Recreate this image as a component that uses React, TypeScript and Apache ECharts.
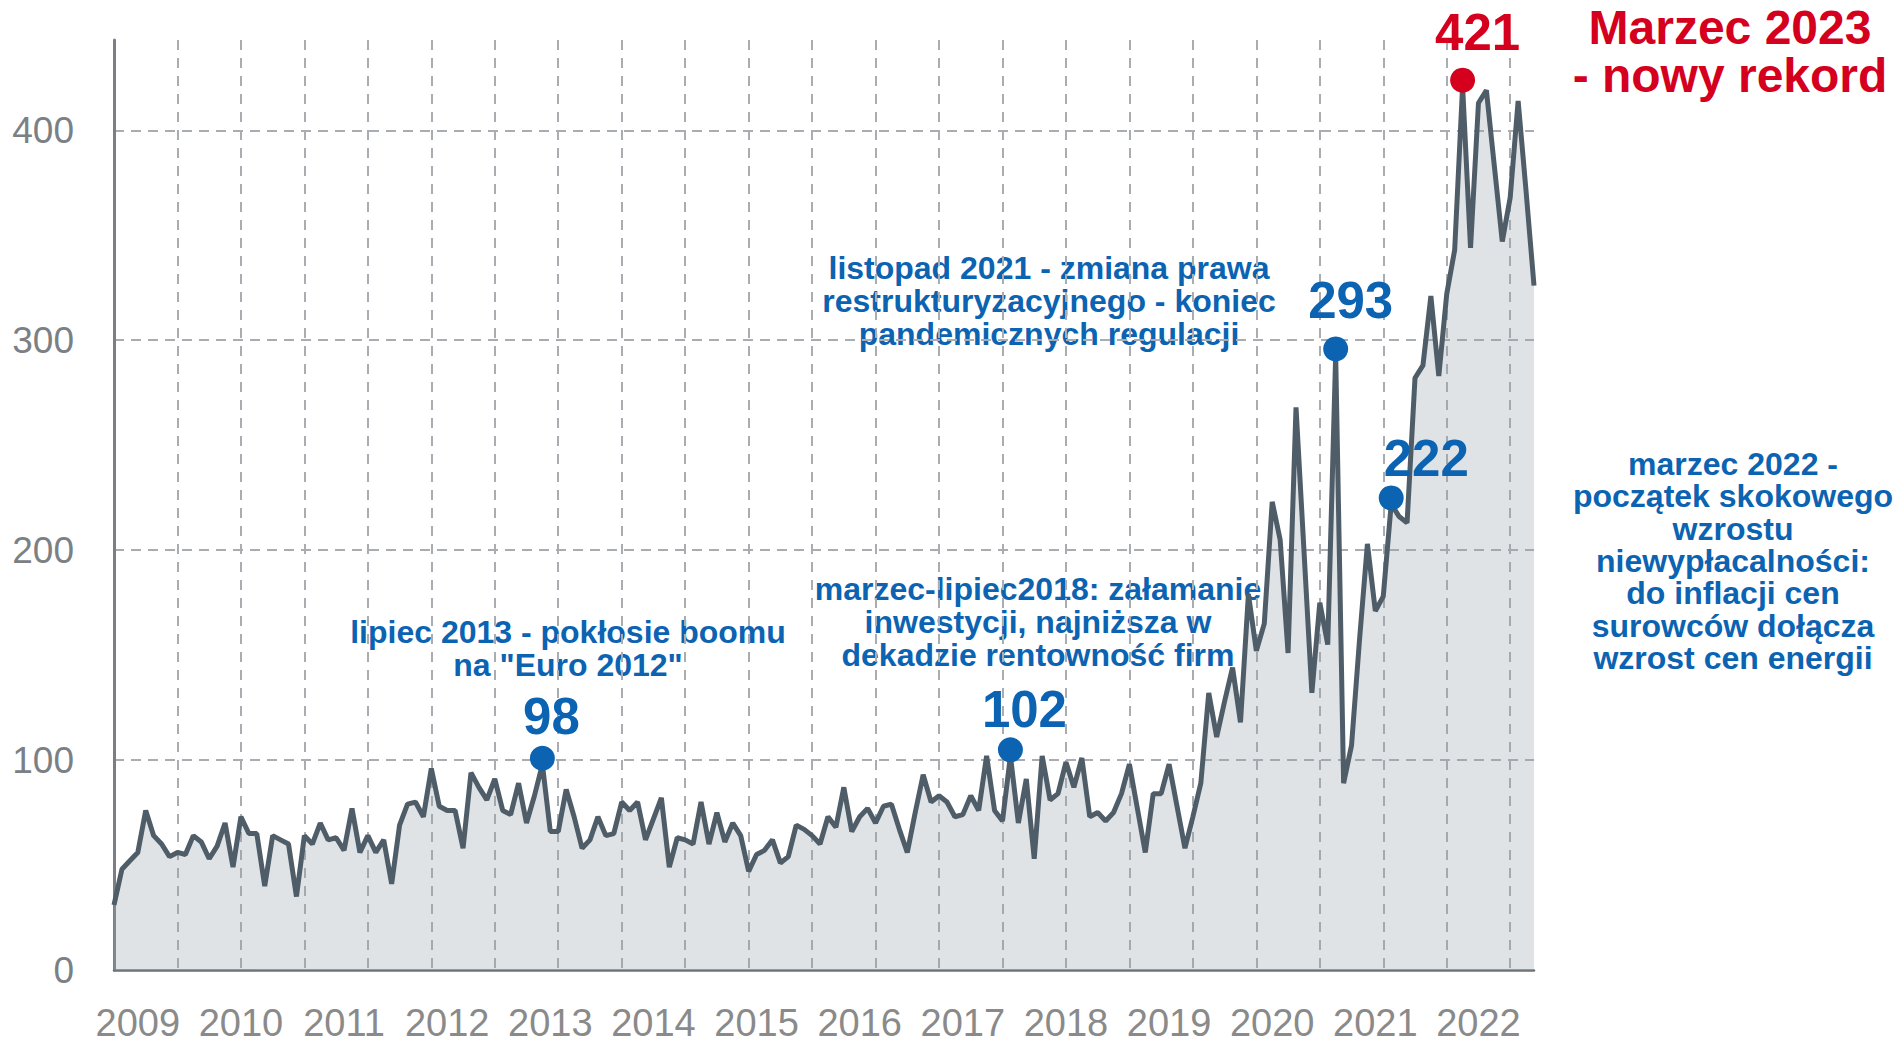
import React, { useEffect, useRef } from 'react';
import * as echarts from 'echarts';

// ---------- data ----------
const startYear = 2009;
const monthCount = 180;
const months: string[] = Array.from({ length: monthCount }, (_, i) =>
  `${startYear + Math.floor(i / 12)}-${String((i % 12) + 1).padStart(2, '0')}`
);

const insolvencies: number[] = [
  31, 48, 52, 56, 76, 64, 60, 54, 56, 55,
  64, 61, 53, 59, 70, 49, 73, 65, 65, 40,
  64, 62, 60, 35, 64, 60, 70, 62, 63, 57,
  77, 56, 64, 56, 62, 41, 69, 79, 80, 73,
  96, 78, 76, 76, 58, 94, 87, 81, 91, 76,
  74, 89, 70, 83, 98, 66, 66, 86, 73, 58,
  62, 73, 64, 65, 80, 76, 80, 62, 72, 82,
  49, 63, 62, 60, 80, 60, 75, 61, 70, 64,
  47, 55, 57, 62, 51, 54, 69, 67, 64, 60,
  73, 68, 87, 66, 73, 77, 70, 78, 79, 67,
  56, 75, 93, 80, 83, 80, 73, 74, 83, 76,
  102, 76, 71, 102, 70, 91, 53, 102, 81, 84,
  99, 87, 101, 73, 75, 71, 75, 84, 98, 77,
  56, 84, 84, 98, 78, 58, 73, 89, 132, 111,
  128, 144, 118, 179, 152, 165, 223, 205, 151, 268,
  200, 132, 175, 155, 293, 89, 107, 157, 203, 171,
  178, 222, 216, 213, 282, 288, 321, 283, 322, 343,
  421, 344, 413, 419, 383, 347, 368, 414, 371, 326,
];

const yearLabels = ['2009', '2010', '2011', '2012', '2013', '2014', '2015', '2016', '2017', '2018', '2019', '2020', '2021', '2022'];
const yearLabelFirstIndex = 3;
const yearLabelStep = 13;
const gridLineStep = 8;

const highlightIndices = [54, 113, 154, 161, 170];
const recordIndex = 170;

const captionEuro = ['lipiec 2013 - pokłosie boomu', 'na "Euro 2012"'];
const captionNov2021 = ['listopad 2021 - zmiana prawa', 'restrukturyzacyjnego - koniec', 'pandemicznych regulacji'];
const caption2018 = ['marzec-lipiec2018: załamanie', 'inwestycji, najniższa w', 'dekadzie rentowność firm'];
const captionMarch2022 = ['marzec 2022 -', 'początek skokowego', 'wzrostu', 'niewypłacalności:', 'do inflacji cen', 'surowców dołącza', 'wzrost cen energii'];
const captionRecord = ['Marzec 2023', '- nowy rekord'];

// ---------- styles ----------
const FONT = "'Liberation Sans', Arial, Helvetica, sans-serif";
const BLUE = '#0b63b1';
const RED = '#d4001e';
const labelOffsets: [number, number][] = [[9, 0], [14, 2], [15, -6], [35, 3], [15, -6]];

export default function App() {
  const ref = useRef<HTMLDivElement>(null);

  useEffect(() => {
    if (!ref.current) return;
    const chart = echarts.init(ref.current, undefined, { renderer: 'svg' });

    const textBlock = (lines: string[], x: number, y: number, color: string, size: number, lh: number) => ({
      type: 'text',
      x,
      y,
      silent: true,
      style: {
        text: lines.join('\n'),
        fill: color,
        fontSize: size,
        fontWeight: 'bold',
        fontFamily: FONT,
        align: 'center',
        verticalAlign: 'middle',
        lineHeight: lh,
      },
    });

    const option: any = {
      animation: false,
      backgroundColor: '#ffffff',
      grid: { left: 114, right: 366, top: 40, bottom: 73, containLabel: false, outerBoundsMode: 'none' },
      xAxis: {
        type: 'category',
        data: months,
        boundaryGap: false,
        axisLine: { show: true, lineStyle: { color: '#6e7378', width: 2.5 } },
        axisTick: { show: false },
        axisLabel: {
          interval: (i: number) => i >= yearLabelFirstIndex && (i - yearLabelFirstIndex) % yearLabelStep === 0,
          formatter: (_v: string, i: number) => yearLabels[(i - yearLabelFirstIndex) / yearLabelStep] ?? '',
          color: '#8a8a8a',
          fontSize: 38,
          lineHeight: 30,
          fontFamily: FONT,
          margin: 38,
        },
        splitLine: {
          show: true,
          interval: (i: number) => i % gridLineStep === 0,
          lineStyle: { color: '#a9adb1', width: 2, type: [10, 8] },
        },
      },
      yAxis: {
        type: 'value',
        min: 0,
        max: 443,
        interval: 100,
        axisLine: { show: true, lineStyle: { color: '#7a7f85', width: 3 } },
        axisTick: { show: false },
        axisLabel: {
          formatter: (v: number) => (v % 100 === 0 ? String(v) : ''),
          showMaxLabel: false,
          color: '#7b8085',
          fontSize: 37,
          fontFamily: FONT,
          margin: 40,
        },
        splitLine: {
          show: true,
          showMinLine: false,
          showMaxLine: false,
          lineStyle: { color: '#a9adb1', width: 2, type: [10, 7] },
        },
      },
      series: [
        {
          type: 'line',
          data: insolvencies,
          symbol: 'none',
          lineStyle: { color: '#4f5d69', width: 5 },
          areaStyle: { color: 'rgba(150,160,170,0.42)' },
          z: 3,
          markPoint: {
            symbol: 'circle',
            symbolSize: 25,
            symbolOffset: [0, -6],
            data: highlightIndices.map((idx, k) => {
              const color = idx === recordIndex ? RED : BLUE;
              return {
                coord: [months[idx], insolvencies[idx]],
                value: insolvencies[idx],
                itemStyle: { color },
                label: {
                  show: true,
                  position: 'top',
                  distance: 4,
                  offset: labelOffsets[k],
                  color,
                  fontSize: 51,
                  fontWeight: 'bold',
                  fontFamily: FONT,
                },
              };
            }),
          },
        },
      ],
      graphic: [
        textBlock(captionEuro, 568, 648, BLUE, 32, 33),
        textBlock(captionNov2021, 1049, 301, BLUE, 32, 33),
        textBlock(caption2018, 1038, 622, BLUE, 32, 33),
        textBlock(captionMarch2022, 1733, 561, BLUE, 32, 32.3),
        textBlock(captionRecord, 1730, 51, RED, 48, 48),
      ],
    };

    chart.setOption(option);
    return () => chart.dispose();
  }, []);

  return (
    <div
      ref={ref}
      style={{ position: 'fixed', left: 0, top: 0, width: 1900, height: 1043, background: '#fff' }}
    />
  );
}
